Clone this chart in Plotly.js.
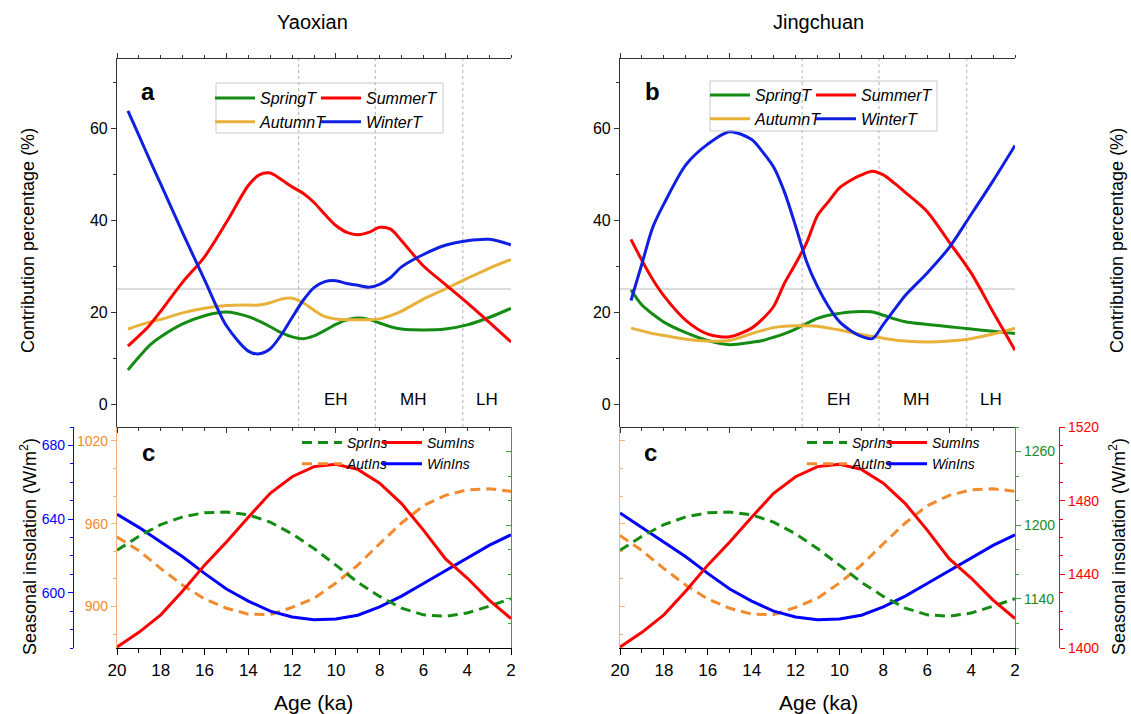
<!DOCTYPE html>
<html><head><meta charset="utf-8">
<script src="https://cdn.plot.ly/plotly-3.0.1.min.js"></script>
<style>html,body{margin:0;padding:0;background:#fff}#chart{width:1131px;height:714px}</style>
</head><body><div id="chart"></div>
<script>
const W = 1131, H = 714;
const FONT = 'Liberation Sans, Arial, Helvetica, sans-serif';

// ---- top panels: contribution percentage (%) ----
const ageT = [19.5,19,18.5,18,17,16,15,14,13.5,13,12.5,12,11.5,11,10.5,10,9.5,9,8.5,8,7.5,7,6,5,4,3,2];
const yxSpringT = [7.4,10.2,12.8,14.6,17.4,19.2,20,19,18,16.8,15.5,14.6,14.2,14.8,16,17.3,18.3,18.7,18.4,17.6,16.8,16.3,16.1,16.3,17.2,18.8,20.8];
const yxSummerT = [12.6,14.8,17.2,20.2,26.5,32,39.5,47.5,49.8,50.2,48.8,47.2,45.8,43.8,41.2,38.8,37.3,36.8,37.3,38.4,38,35.5,30,26,22,17.8,13.5];
const yxAutumnT = [16.3,17.1,17.8,18.4,19.8,20.8,21.4,21.5,21.5,22,22.8,23,22,20.4,19,18.5,18.3,18.3,18.3,18.5,19.2,20.2,22.8,25,27.3,29.5,31.4];
const yxWinterT = [63.7,58.4,53,47.8,37.2,27,17,11.5,10.9,12,15,18.8,22.5,25.3,26.6,26.8,26.2,25.8,25.4,26,27.5,29.8,32.5,34.5,35.5,35.8,34.6];

const jcSpringT = [24.8,21.5,19.5,17.8,15.5,13.8,12.9,13.4,13.8,14.5,15.3,16.3,17.5,18.6,19.3,19.7,20,20.1,20,19.3,18.5,17.9,17.3,16.8,16.3,15.8,15.3];
const jcSummerT = [35.8,31.2,27,23.5,18.2,15.2,14.6,16.5,18.5,21.2,26.3,30.5,35,41,44,47,48.6,49.8,50.6,49.8,48,46,41.8,35.2,28.5,20,11.7];
const jcAutumnT = [16.5,15.9,15.3,14.9,14.1,13.7,13.8,15.3,16,16.6,16.9,17,17,16.9,16.5,16.1,15.6,15.1,14.7,14.3,13.9,13.7,13.5,13.7,14.2,15.2,16.5];
const jcWinterT = [22.5,30.5,38.5,43.5,52,56.5,59.2,57.5,54.8,51.5,46,38.7,31,25.5,21.2,17.9,16,14.7,14.2,17.3,20.5,23.6,28.5,34,41.2,48.5,56.2];

// ---- bottom panels: seasonal insolation (W/m2) ----
const ageIns = [20,19,18,17,16,15,14,13,12,11,10,9,8,7,6,5,4,3,2];
const yxSprIns = [1179.6,1191,1200.5,1206.8,1210.2,1210.7,1208.5,1202.5,1193,1181,1167.5,1153.5,1142,1132.5,1127,1125.8,1128.5,1134,1140.2];
const yxSumIns = [1400.5,1408.5,1418,1431,1445,1457.5,1471,1484,1493,1498.5,1499.8,1497,1489.5,1478.4,1464,1448.5,1438,1426,1416];
const yxAutIns = [950.4,940.5,927.5,915.5,905.5,898.8,894.5,894.2,899.4,906,917,930,945.5,960.5,973,980.5,984.5,985.3,983.4];
const yxWinIns = [642.6,635.5,627.5,619.5,610.5,602,595.5,590,586.8,585.4,585.7,587.8,592.3,598.2,605,612,619,625.7,631.5];

const jcSprIns = [1179.6,1191,1200.5,1206.8,1210.2,1210.7,1208.5,1202.5,1193,1181,1167.5,1153.5,1142,1132.5,1127,1125.8,1128.5,1134,1140.2];
const jcSumIns = [1400.5,1408.5,1418,1431,1445,1457.5,1471,1484,1493,1498.5,1499.8,1497,1489.5,1478.4,1464,1448.5,1438,1426,1416];
const jcAutIns = [951.5,940.5,927.5,915.5,905.5,898.8,894.5,894.2,899.4,906,917,930,945.5,960.5,973,980.5,984.5,985.3,983.4];
const jcWinIns = [643.3,635.5,627.5,619.5,610.5,602,595.5,590,586.8,585.4,585.7,587.8,592.3,598.2,605,612,619,625.7,631.5];

const periodBounds = [11.7, 8.2, 4.2];
const periodLabels = ['EH','MH','LH'];
const periodLabelAge = [10, 6.5, 3.1];

const C = {spring:'#148c14', summer:'#ff0000', autumn:'#e8b23a', winter:'#1020e0',
           sprIns:'#148c14', sumIns:'#ff0000', autIns:'#f28a2e', winIns:'#0000ff'};

const px = v => v / W;
const py = v => 1 - v / H;
const xL = [px(117), px(511)], xR = [px(620), px(1015)];
const yTop = [py(427), py(59)], yBot = [py(648), py(427)];

function tLine(x, y, name, color, xa, ya, leg, dash, shape) {
  return {x: x, y: y, name: name, type: 'scatter', mode: 'lines', xaxis: xa, yaxis: ya,
    legend: leg, line: {color: color, width: 3, dash: dash || 'solid', shape: shape || 'spline', smoothing: 0.8},
    hoverinfo: 'x+y+name'};
}
const DASH = '10px,6px';
const traces = [
  tLine(ageT, yxSpringT, 'SpringT', C.spring, 'x', 'y', 'legend'),
  tLine(ageT, yxAutumnT, 'AutumnT', C.autumn, 'x', 'y', 'legend'),
  tLine(ageT, yxSummerT, 'SummerT', C.summer, 'x', 'y', 'legend2'),
  tLine(ageT, yxWinterT, 'WinterT', C.winter, 'x', 'y', 'legend2'),
  tLine(ageT, jcSpringT, 'SpringT', C.spring, 'x3', 'y7', 'legend3'),
  tLine(ageT, jcAutumnT, 'AutumnT', C.autumn, 'x3', 'y7', 'legend3'),
  tLine(ageT, jcSummerT, 'SummerT', C.summer, 'x3', 'y7', 'legend4'),
  tLine(ageT, jcWinterT, 'WinterT', C.winter, 'x3', 'y7', 'legend4'),
  tLine(ageIns, yxSprIns, 'SprIns', C.sprIns, 'x2', 'y5', 'legend5', DASH, 'linear'),
  tLine(ageIns, yxAutIns, 'AutIns', C.autIns, 'x2', 'y3', 'legend5', DASH, 'linear'),
  tLine(ageIns, yxSumIns, 'SumIns', C.sumIns, 'x2', 'y6', 'legend6', 'solid', 'linear'),
  tLine(ageIns, yxWinIns, 'WinIns', C.winIns, 'x2', 'y4', 'legend6', 'solid', 'linear'),
  tLine(ageIns, jcSprIns, 'SprIns', C.sprIns, 'x4', 'y11', 'legend7', DASH, 'linear'),
  tLine(ageIns, jcAutIns, 'AutIns', C.autIns, 'x4', 'y9', 'legend7', DASH, 'linear'),
  tLine(ageIns, jcSumIns, 'SumIns', C.sumIns, 'x4', 'y12', 'legend8', 'solid', 'linear'),
  tLine(ageIns, jcWinIns, 'WinIns', C.winIns, 'x4', 'y10', 'legend8', 'solid', 'linear')
];

const AX = '#333';
function topX(dom, anchor) {
  return {domain: dom, anchor: anchor, range: [20, 2], showgrid: false, zeroline: false,
    showline: true, linecolor: AX, linewidth: 1.2, mirror: 'ticks', ticks: 'outside', ticklen: 5,
    tickcolor: AX, tick0: 0, dtick: 5, showticklabels: false,
    minor: {dtick: 1, ticks: 'outside', ticklen: 3, tickcolor: AX, showgrid: false}};
}
function botX(dom, anchor) {
  return {domain: dom, anchor: anchor, range: [20, 2], showgrid: false, zeroline: false,
    showline: true, linecolor: '#000', linewidth: 1.2, ticks: 'outside', ticklen: 6, tickcolor: '#000',
    tick0: 0, dtick: 2, tickfont: {size: 17, color: '#000', family: FONT},
    minor: {dtick: 1, ticks: 'outside', ticklen: 4, tickcolor: '#000', showgrid: false}};
}
function topY(side, anchor, overlay) {
  const a = {domain: yTop, anchor: anchor, side: side, range: [-5, 75], showgrid: false, zeroline: false,
    showline: true, linecolor: AX, linewidth: 1.2, ticks: 'outside', ticklen: 5, tickcolor: AX,
    tick0: 0, dtick: 20, tickfont: {size: 16, color: '#000', family: FONT},
    minor: {dtick: 10, ticks: 'outside', ticklen: 3, tickcolor: AX, showgrid: false}};
  if (overlay) a.overlaying = overlay;
  return a;
}
function insY(o) {
  const a = {domain: yBot, showgrid: false, zeroline: false, showline: true, linewidth: 1.2,
    linecolor: o.line, tickcolor: o.line, ticks: o.ticks, ticklen: 5, range: o.range,
    tick0: o.tick0, dtick: o.dtick, showticklabels: o.labels, side: o.side, anchor: o.anchor,
    tickfont: {size: 14, color: o.label, family: FONT},
    minor: {dtick: o.minor, ticks: o.ticks, ticklen: 3, tickcolor: o.line, showgrid: false}};
  if (o.overlay) a.overlaying = o.overlay;
  if (o.position !== undefined) a.position = o.position;
  if (o.visible === false) a.visible = false;
  return a;
}
const ORL = '#f6b27a', ORT = '#f28a2e', GRL = '#3aa63a', GRT = '#1a8c1a', BL = '#0000ff', RD = '#ff0000';

const shapes = [];
[['x', 'y'], ['x3', 'y7']].forEach(([xa, ya]) => {
  shapes.push({type: 'line', xref: xa, yref: ya, x0: 20, x1: 2, y0: 25, y1: 25, layer: 'below',
    line: {color: '#b8b8b8', width: 1}});
  periodBounds.forEach(b => shapes.push({type: 'line', xref: xa, yref: ya + ' domain', x0: b, x1: b, y0: 0, y1: 1,
    layer: 'below', line: {color: '#b0b0b0', width: 1, dash: 'dot'}}));
});
// legend frames (top panels)
shapes.push({type: 'rect', xref: 'paper', yref: 'paper', x0: px(216), x1: px(443), y0: py(133), y1: py(83),
  line: {color: '#c8c8c8', width: 1}, fillcolor: 'rgba(255,255,255,0)', layer: 'above'});
shapes.push({type: 'rect', xref: 'paper', yref: 'paper', x0: px(710), x1: px(937), y0: py(131), y1: py(81),
  line: {color: '#c8c8c8', width: 1}, fillcolor: 'rgba(255,255,255,0)', layer: 'above'});

function ann(text, x, y, size, extra) {
  return Object.assign({text: text, x: x, y: y, xref: 'paper', yref: 'paper', showarrow: false,
    xanchor: 'center', yanchor: 'middle',
    font: {size: size, color: '#000', family: FONT}}, extra || {});
}
const annotations = [
  ann('Yaoxian', px(312), py(22), 20),
  ann('Jingchuan', px(818), py(22), 20),
  ann('Contribution percentage (%)', px(28), py(241), 18, {textangle: -90}),
  ann('Contribution percentage (%)', px(1117), py(241), 18, {textangle: -90}),
  ann('Seasonal insolation (W/m<sup>2</sup>)', px(28), py(547), 18, {textangle: -90}),
  ann('Seasonal insolation (W/m<sup>2</sup>)', px(1117), py(547), 18, {textangle: -90}),
  ann('Age (ka)', px(314), py(702), 21),
  ann('Age (ka)', px(818), py(702), 21),
  ann('<b>a</b>', px(148), py(92), 24),
  ann('<b>b</b>', px(652), py(92), 24),
  ann('<b>c</b>', px(148), py(452), 24),
  ann('<b>c</b>', px(650), py(452), 24)
];
[['x', 'y'], ['x3', 'y7']].forEach(([xa, ya]) => {
  periodLabels.forEach((t, i) => annotations.push({text: t, x: periodLabelAge[i], y: 1, xref: xa, yref: ya,
    showarrow: false, xanchor: 'center', yanchor: 'middle', font: {size: 17, color: '#000', family: FONT}}));
});

function leg(x, y, size) {
  return {x: x, y: y, xanchor: 'left', yanchor: 'top', bgcolor: 'rgba(0,0,0,0)', borderwidth: 0,
    orientation: 'v', tracegroupgap: 0, itemwidth: 40,
    font: {size: size, color: '#000', family: FONT, style: 'italic'}};
}

const layout = {
  width: W, height: H, margin: {l: 0, r: 0, t: 0, b: 0}, paper_bgcolor: '#fff', plot_bgcolor: 'rgba(0,0,0,0)',
  font: {family: FONT, color: '#000'}, showlegend: true,
  xaxis: topX(xL, 'y'),
  yaxis: topY('left', 'x'),
  yaxis2: topY('right', 'x', 'y'),
  xaxis2: botX(xL, 'y3'),
  yaxis3: insY({line: ORL, label: ORT, ticks: 'outside', range: [870, 1030], tick0: 900, dtick: 60, minor: 20, labels: true, side: 'left', anchor: 'x2'}),
  yaxis4: insY({line: BL, label: BL, ticks: 'outside', range: [570, 690], tick0: 600, dtick: 40, minor: 10, labels: true, side: 'left', anchor: 'free', position: px(73), overlay: 'y3'}),
  yaxis5: insY({line: GRL, label: GRT, ticks: 'inside', range: [1100, 1280], tick0: 1140, dtick: 60, minor: 20, labels: false, side: 'right', anchor: 'x2', overlay: 'y3'}),
  yaxis6: insY({line: RD, label: RD, ticks: 'outside', range: [1400, 1520], tick0: 1400, dtick: 40, minor: 10, labels: false, side: 'right', anchor: 'x2', overlay: 'y3', visible: false}),
  xaxis3: topX(xR, 'y7'),
  yaxis7: topY('left', 'x3'),
  yaxis8: topY('right', 'x3', 'y7'),
  xaxis4: botX(xR, 'y9'),
  yaxis9: insY({line: ORL, label: ORT, ticks: 'inside', range: [870, 1030], tick0: 900, dtick: 60, minor: 20, labels: false, side: 'left', anchor: 'x4'}),
  yaxis10: insY({line: BL, label: BL, ticks: 'outside', range: [570, 690], tick0: 600, dtick: 40, minor: 10, labels: false, side: 'left', anchor: 'x4', overlay: 'y9', visible: false}),
  yaxis11: insY({line: GRL, label: GRT, ticks: 'outside', range: [1100, 1280], tick0: 1140, dtick: 60, minor: 20, labels: true, side: 'right', anchor: 'x4', overlay: 'y9'}),
  yaxis12: insY({line: RD, label: RD, ticks: 'outside', range: [1400, 1520], tick0: 1400, dtick: 40, minor: 10, labels: true, side: 'right', anchor: 'free', position: px(1059), overlay: 'y9'}),
  legend: leg(px(210), py(81), 16),
  legend2: leg(px(316), py(81), 16),
  legend3: leg(px(705), py(78), 16),
  legend4: leg(px(811), py(78), 16),
  legend5: leg(px(297), py(427), 14),
  legend6: leg(px(377), py(427), 14),
  legend7: leg(px(802), py(427), 14),
  legend8: leg(px(882), py(427), 14),
  shapes: shapes,
  annotations: annotations
};

Plotly.newPlot('chart', traces, layout, {displayModeBar: false, responsive: false});
</script></body></html>
